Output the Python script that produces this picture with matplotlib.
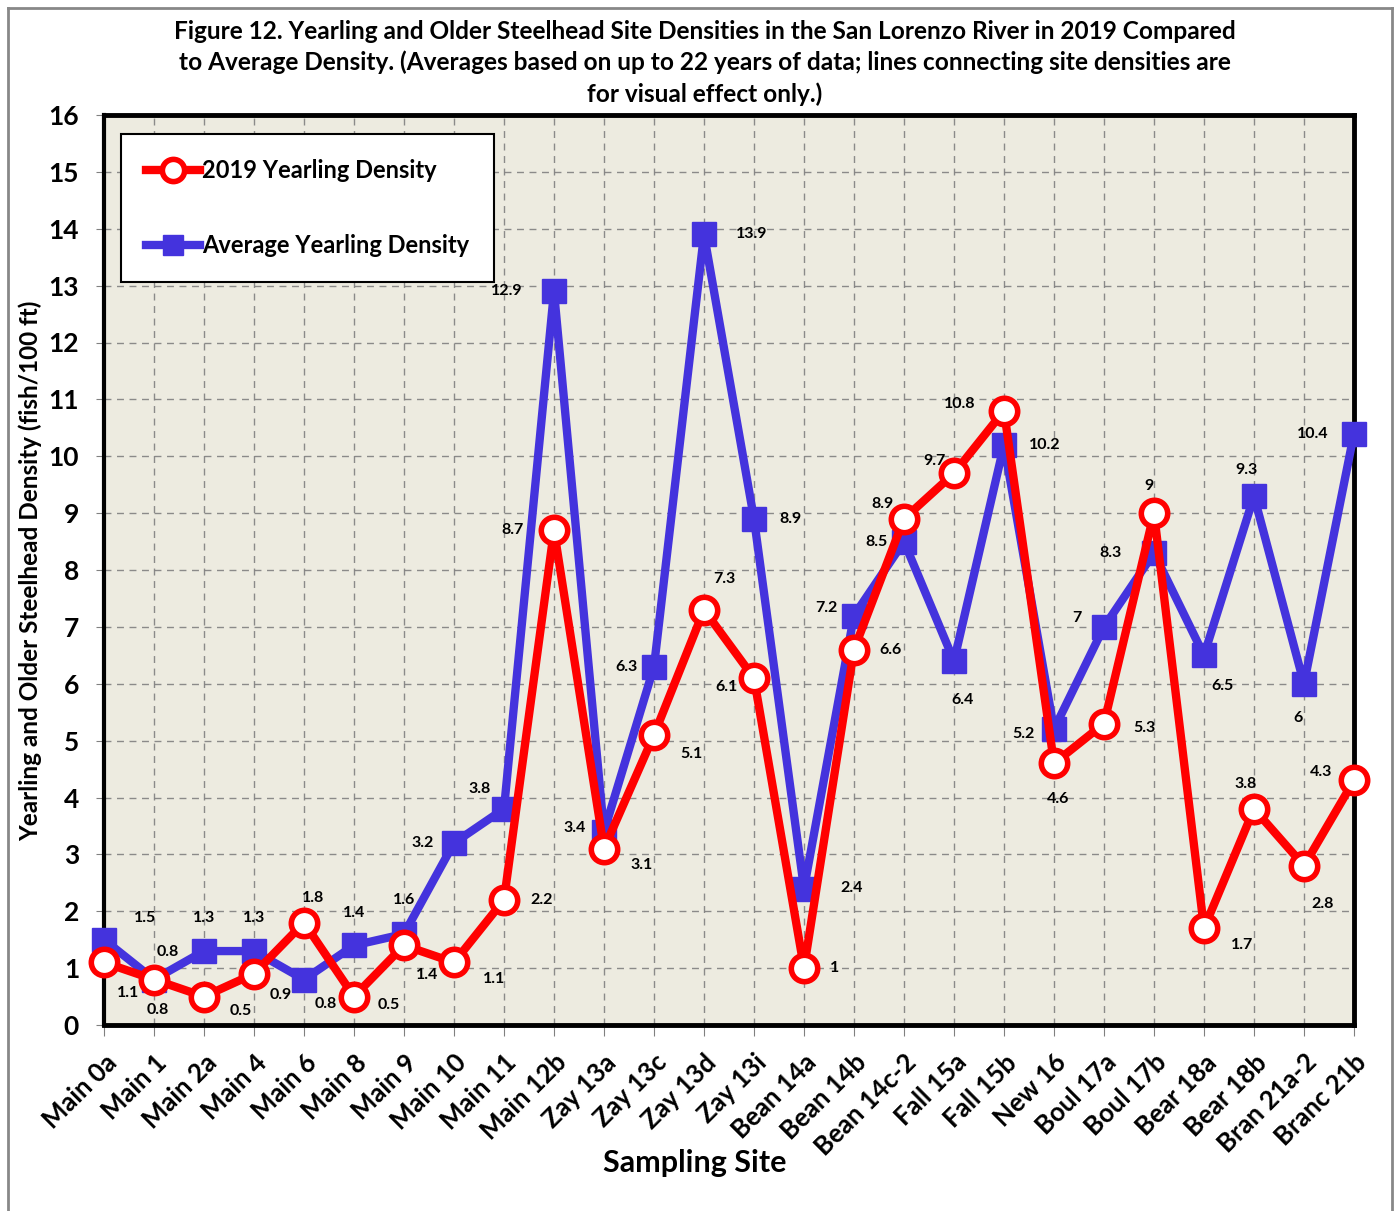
"""
Figure 12 - Yearling and older steelhead site densities, San Lorenzo River 2019
vs. average density.
"""

import matplotlib
matplotlib.use('Agg')
import matplotlib.pyplot as plt
from matplotlib.lines import Line2D

plt.rcParams['font.family'] = ['Lato', 'DejaVu Sans']
plt.rcParams['font.weight'] = 'bold'

sites = ['Main 0a', 'Main 1', 'Main 2a', 'Main 4', 'Main 6', 'Main 8', 'Main 9',
         'Main 10', 'Main 11', 'Main 12b', 'Zay 13a', 'Zay 13c', 'Zay 13d',
         'Zay 13i', 'Bean 14a', 'Bean 14b', 'Bean 14c-2', 'Fall 15a', 'Fall 15b',
         'New 16', 'Boul 17a', 'Boul 17b', 'Bear 18a', 'Bear 18b', 'Bran 21a-2',
         'Branc 21b']
density_2019 = [1.1, 0.8, 0.5, 0.9, 1.8, 0.5, 1.4, 1.1, 2.2, 8.7, 3.1, 5.1, 7.3,
                6.1, 1, 6.6, 8.9, 9.7, 10.8, 4.6, 5.3, 9, 1.7, 3.8, 2.8, 4.3]
density_avg = [1.5, 0.8, 1.3, 1.3, 0.8, 1.4, 1.6, 3.2, 3.8, 12.9, 3.4, 6.3, 13.9,
               8.9, 2.4, 7.2, 8.5, 6.4, 10.2, 5.2, 7, 8.3, 6.5, 9.3, 6, 10.4]

# label offsets in pixels (dx, dy; dy positive = up)
off_2019 = [(24, -31), (4, -30), (37, -14), (27, -21), (9, 25), (35, -8),
            (23, -30), (40, -17), (38, 0), (-41, 0), (38, -16), (37, -19),
            (20, 31), (-28, -9), (31, 0), (36, 0), (-21, 15), (-19, 12),
            (-44, 7), (4, -36), (40, -4), (-5, 27), (38, -17), (-8, 25),
            (19, -38), (-33, 8)]
off_avg = [(41, 22), (14, 28), (0, 33), (0, 33), (22, -24), (0, 32), (0, 34),
           (-31, 0), (-24, 20), (-47, 0), (-29, 4), (-27, 0), (48, 0), (37, 0),
           (48, 0), (-28, 8), (-28, 0), (9, -39), (41, 0), (-30, -5), (-27, 9),
           (-43, 0), (18, -31), (-7, 26), (-6, -34), (-41, 0)]

RED = '#FF0000'
BLUE = '#4433DD'

fig = plt.figure(figsize=(13.98, 12.11), dpi=100)
ax = fig.add_axes([104 / 1398, 1 - 1025 / 1211, 1250 / 1398, 910 / 1211])
ax.set_facecolor('#EDEBE0')

x = list(range(len(sites)))
ax.plot(x, density_avg, color=BLUE, lw=6, marker='s', ms=17,
        mfc=BLUE, mec=BLUE, zorder=3, clip_on=False)
ax.plot(x, density_2019, color=RED, lw=6, marker='o', ms=19,
        mfc='white', mec=RED, mew=4, zorder=4, clip_on=False)

for i in x:
    ax.annotate(f'{density_2019[i]:g}', (i, density_2019[i]),
                xytext=off_2019[i], textcoords='offset pixels',
                ha='center', va='center', fontsize=11.5, fontweight='bold', zorder=6)
    ax.annotate(f'{density_avg[i]:g}', (i, density_avg[i]),
                xytext=off_avg[i], textcoords='offset pixels',
                ha='center', va='center', fontsize=11.5, fontweight='bold', zorder=6)

ax.set_xlim(0, len(sites) - 1)
ax.set_ylim(0, 16)
ax.set_yticks(range(0, 17))
ax.set_xticks(x)
ax.set_xticklabels(sites, rotation=45, ha='right', rotation_mode='anchor',
                   fontsize=18.5, fontweight='bold')
ax.tick_params(axis='y', labelsize=19, length=6, color='gray', pad=12)
ax.tick_params(axis='x', length=8, color='gray', direction='out', pad=10)
for lab in ax.get_yticklabels():
    lab.set_fontweight('bold')

ax.grid(True, color='gray', ls=(0, (5, 4)), lw=1, alpha=0.9)
ax.set_axisbelow(True)
for side in ['top', 'right', 'bottom']:
    ax.spines[side].set_linewidth(3.5)
ax.spines['left'].set_linewidth(3)
for s in ax.spines.values():
    s.set_color('black')

ax.set_xlabel('Sampling Site', fontsize=22, fontweight='bold')
ax.xaxis.set_label_coords((695 - 104) / 1250, -(1149 - 1025) / 910)
ax.set_ylabel('Yearling and Older Steelhead Density (fish/100 ft)',
              fontsize=17.5, fontweight='bold')
ax.yaxis.set_label_coords(-(104 - 42) / 1250, (1025 - 571) / 910)

handles = [
    Line2D([], [], color=RED, lw=6, marker='o', ms=16, mfc='white', mec=RED, mew=4),
    Line2D([], [], color=BLUE, lw=6, marker='s', ms=15, mfc=BLUE, mec=BLUE),
]
leg = ax.legend(handles, ['2019 Yearling Density', 'Average Yearling Density'],
                loc='upper left', bbox_to_anchor=(0.0136, 0.979), borderaxespad=0,
                fontsize=17, frameon=True, fancybox=False, edgecolor='black',
                framealpha=1, labelspacing=2.2, handlelength=2.3,
                handletextpad=0.1, borderpad=1.05)
leg.get_frame().set_linewidth(1.5)
for t in leg.get_texts():
    t.set_fontweight('bold')

fig.text(0.504, 1 - 63 / 1211,
         'Figure 12. Yearling and Older Steelhead Site Densities in the San Lorenzo River in 2019 Compared\n'
         'to Average Density. (Averages based on up to 22 years of data; lines connecting site densities are\n'
         'for visual effect only.)',
         ha='center', va='center', fontsize=17.6, fontweight='bold', linespacing=1.42)

# outer chart frame
for xs, ys in [([8, 8], [1211, 8]), ([8, 1392], [8, 8]), ([1392, 1392], [8, 1211])]:
    fig.add_artist(Line2D([v / 1398 for v in xs], [1 - v / 1211 for v in ys],
                          color='#888888', lw=2))

plt.savefig('out.png', dpi=100, facecolor='white')
plt.close()
